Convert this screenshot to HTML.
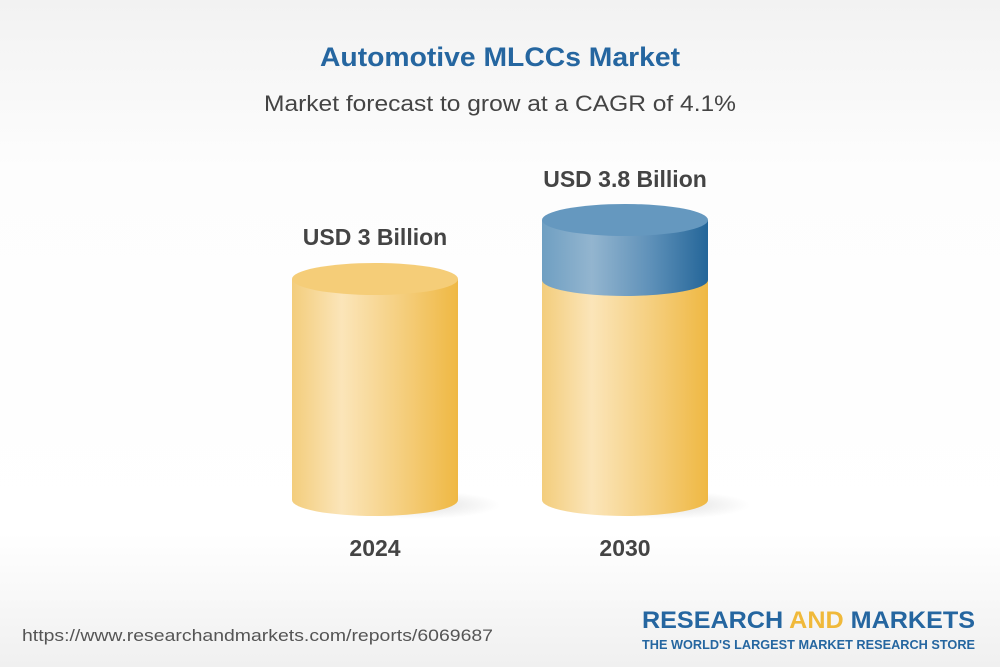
<!DOCTYPE html>
<html><head><style>
body{margin:0;width:1000px;height:667px;overflow:hidden;font-family:"Liberation Sans",sans-serif;}
</style></head><body>
<svg width="1000" height="667" xmlns="http://www.w3.org/2000/svg">
<defs>
<linearGradient id="bg" x1="0" y1="0" x2="0" y2="1">
<stop offset="0" stop-color="#f2f2f2"/><stop offset="0.25" stop-color="#fdfdfd"/><stop offset="0.8" stop-color="#ffffff"/><stop offset="1" stop-color="#f0f0f0"/>
</linearGradient>
<linearGradient id="gold" x1="0" y1="0" x2="1" y2="0">
<stop offset="0" stop-color="#f3cd7c"/><stop offset="0.3" stop-color="#fbe5b9"/><stop offset="0.65" stop-color="#f5cf80"/><stop offset="1" stop-color="#efb843"/>
</linearGradient>
<linearGradient id="blue" x1="0" y1="0" x2="1" y2="0">
<stop offset="0" stop-color="#6f9fc2"/><stop offset="0.3" stop-color="#93b5cf"/><stop offset="0.65" stop-color="#5f91b9"/><stop offset="1" stop-color="#246699"/>
</linearGradient>
<radialGradient id="sh" cx="0.5" cy="0.5" r="0.5">
<stop offset="0" stop-color="#000" stop-opacity="0.12"/><stop offset="1" stop-color="#000" stop-opacity="0"/>
</radialGradient>
</defs>
<rect width="1000" height="667" fill="url(#bg)"/>
<text x="500" y="66" text-anchor="middle" font-size="27" font-weight="bold" fill="#2566a0" textLength="360" lengthAdjust="spacingAndGlyphs">Automotive MLCCs Market</text>
<text x="500" y="111" text-anchor="middle" font-size="22" fill="#444" textLength="472" lengthAdjust="spacingAndGlyphs">Market forecast to grow at a CAGR of 4.1%</text>
<ellipse cx="420" cy="505" rx="80" ry="14" fill="url(#sh)"/>
<ellipse cx="670" cy="505" rx="80" ry="14" fill="url(#sh)"/>
<path d="M292 279 L292 500 A83 16 0 0 0 458 500 L458 279 Z" fill="url(#gold)"/>
<ellipse cx="375" cy="279" rx="83" ry="16" fill="#f5cd78"/>
<path d="M542 280 L542 500 A83 16 0 0 0 708 500 L708 280 Z" fill="url(#gold)"/>
<path d="M542 220 L542 280 A83 16 0 0 0 708 280 L708 220 Z" fill="url(#blue)"/>
<ellipse cx="625" cy="220" rx="83" ry="16" fill="#6598bf"/>
<text x="375" y="245" text-anchor="middle" font-size="23" font-weight="bold" fill="#444">USD 3 Billion</text>
<text x="625" y="187" text-anchor="middle" font-size="23" font-weight="bold" fill="#444">USD 3.8 Billion</text>
<text x="375" y="556" text-anchor="middle" font-size="23" font-weight="bold" fill="#444">2024</text>
<text x="625" y="556" text-anchor="middle" font-size="23" font-weight="bold" fill="#444">2030</text>
<text x="22" y="641" font-size="17" fill="#555" textLength="471" lengthAdjust="spacingAndGlyphs">https://www.researchandmarkets.com/reports/6069687</text>
<text x="975" y="628" text-anchor="end" font-size="24" font-weight="bold" fill="#2566a0" textLength="333" lengthAdjust="spacingAndGlyphs">RESEARCH <tspan fill="#f0b93a">AND</tspan> MARKETS</text>
<text x="975" y="649" text-anchor="end" font-size="12.5" font-weight="bold" fill="#2566a0" textLength="333" lengthAdjust="spacingAndGlyphs">THE WORLD'S LARGEST MARKET RESEARCH STORE</text>
</svg>
</body></html>
